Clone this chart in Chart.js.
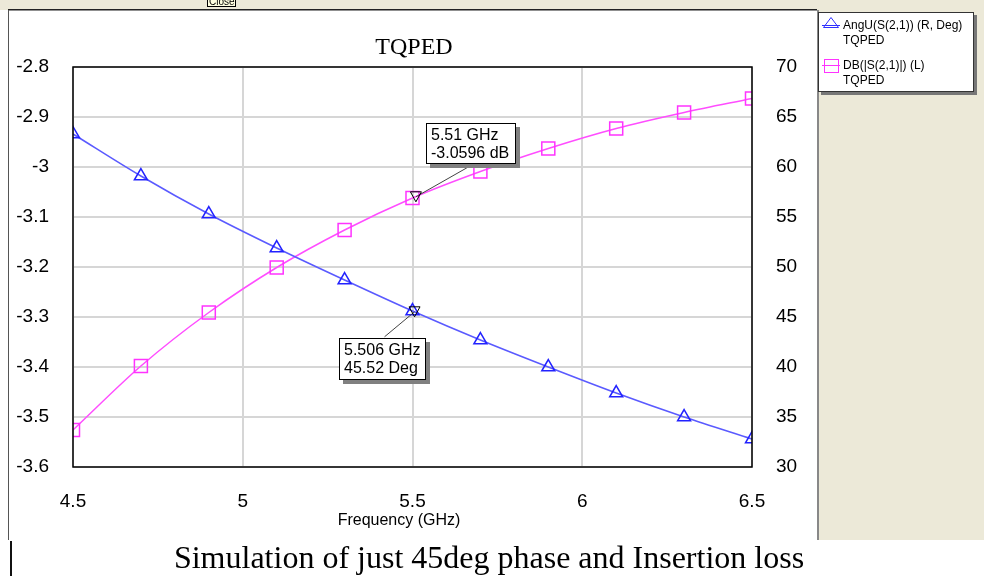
<!DOCTYPE html>
<html>
<head>
<meta charset="utf-8">
<script src="https://cdn.jsdelivr.net/npm/chart.js@4.4.0/dist/chart.umd.min.js"></script>
<style>
html, body { margin: 0; padding: 0; background: #fff; }
#wrap { position: relative; width: 984px; height: 576px; }
</style>
</head>
<body>
<div id="wrap"><canvas id="tqpedChart" width="984" height="576"></canvas></div>
<script>
// values
const freqGHz = [4.5, 4.7, 4.9, 5.1, 5.3, 5.5, 5.7, 5.9, 6.1, 6.3, 6.5];
const angDeg = [63.3, 59.1, 55.3, 51.9, 48.7, 45.6, 42.7, 40.0, 37.4, 35.0, 32.8];
const insLossDb = [-3.526, -3.398, -3.291, -3.201, -3.126, -3.062, -3.009, -2.963, -2.923, -2.891, -2.863];

const freqTicks = [4.5, 5, 5.5, 6, 6.5];
const dbTicks = [-2.8, -2.9, -3, -3.1, -3.2, -3.3, -3.4, -3.5, -3.6];
const degTicks = [70, 65, 60, 55, 50, 45, 40, 35, 30];

const markerFreqs = [5.51, 5.506];
const markerValues = [-3.0596, 45.52];
const markerAxes = ['y', 'y1'];
const markerLabels = [['5.51 GHz', '-3.0596 dB'], ['5.506 GHz', '45.52 Deg']];

const SANS = '"Liberation Sans", Arial, sans-serif';
const SERIF = '"Liberation Serif", "Times New Roman", serif';

const toPoints = vals => freqGHz.map((f, i) => ({ x: f, y: vals[i] }));

// window, legend, title, marker callouts
const paperPlugin = {
    id: 'paper',
    beforeDraw(chart) {
        const c = chart.ctx;
        c.save();
        c.fillStyle = '#fff';
        c.fillRect(0, 0, 984, 576);
        c.fillStyle = '#ece9d8';
        c.fillRect(0, 0, 984, 10);
        c.fillRect(819, 0, 165, 540);
        c.fillStyle = '#fff';
        c.fillRect(8, 10, 809, 530);
        c.fillStyle = '#222';
        c.fillRect(8, 9, 809, 1.5);
        c.fillStyle = '#555';
        c.fillRect(8, 10, 1, 530);
        c.fillStyle = '#888';
        c.fillRect(817, 10, 2, 530);
        c.fillStyle = '#111';
        c.fillRect(10, 541, 2, 35);

        // "Close" tooltip poking in at the top
        c.fillStyle = '#ffffe1';
        c.fillRect(207, -1, 28, 8);
        c.strokeStyle = '#000';
        c.lineWidth = 1;
        c.strokeRect(207.5, -1.5, 28, 8);
        c.fillStyle = '#000';
        c.font = '10px ' + SANS;
        c.textAlign = 'left';
        c.textBaseline = 'alphabetic';
        c.fillText('Close', 209, 5);

        // title
        c.font = '24px ' + SERIF;
        c.textAlign = 'center';
        c.fillText('TQPED', 414, 54);

        // x axis title
        c.font = '16px ' + SANS;
        c.fillText('Frequency (GHz)', 399, 525);

        // caption under the screenshot
        c.font = '32px ' + SERIF;
        c.fillText('Simulation of just 45deg phase and Insertion loss', 489, 568);
        c.restore();
    },
    afterDraw(chart) {
        const c = chart.ctx;
        const ca = chart.chartArea;
        c.save();
        c.strokeStyle = '#000';
        c.lineWidth = 1.5;
        c.strokeRect(ca.left, ca.top, ca.right - ca.left, ca.bottom - ca.top);

        // legend box
        c.fillStyle = '#777';
        c.fillRect(821, 15, 156, 80);
        c.fillStyle = '#fff';
        c.fillRect(818, 12, 156, 80);
        c.strokeStyle = '#333';
        c.lineWidth = 1;
        c.strokeRect(818.5, 12.5, 155, 79);

        c.strokeStyle = '#3030ff';
        c.beginPath();
        c.moveTo(822, 25.5); c.lineTo(840, 25.5);
        c.moveTo(831, 17.5); c.lineTo(823.5, 27.5); c.lineTo(838.5, 27.5); c.closePath();
        c.stroke();
        c.strokeStyle = '#ff33ff';
        c.beginPath();
        c.moveTo(822, 65.5); c.lineTo(840, 65.5);
        c.stroke();
        c.strokeRect(824.5, 59.5, 14, 13);

        c.fillStyle = '#000';
        c.font = '12px ' + SANS;
        c.textAlign = 'left';
        c.fillText('AngU(S(2,1)) (R, Deg)', 843, 29);
        c.fillText('TQPED', 843, 44);
        c.fillText('DB(|S(2,1)|) (L)', 843, 69);
        c.fillText('TQPED', 843, 84);

        // marker callouts
        const callout = [
            { dx: 10, dy: -74, w: 90, h: 41, lx: 51, ly: -29 },
            { dx: -76, dy: 26, w: 87, h: 42, lx: -30, ly: 25 }
        ];
        markerFreqs.forEach((f, i) => {
            const px = chart.scales.x.getPixelForValue(f);
            const py = chart.scales[markerAxes[i]].getPixelForValue(markerValues[i]);
            const b = callout[i];
            const bx = Math.round(px + b.dx), by = Math.round(py + b.dy);

            c.strokeStyle = '#444';
            c.lineWidth = 1;
            c.beginPath();
            c.moveTo(px, py);
            c.lineTo(px + b.lx, py + b.ly);
            c.stroke();

            c.fillStyle = '#808080';
            c.fillRect(bx + 4, by + 4, b.w, b.h);
            c.fillStyle = '#fff';
            c.fillRect(bx, by, b.w, b.h);
            c.strokeStyle = '#000';
            c.strokeRect(bx + 0.5, by + 0.5, b.w - 1, b.h - 1);

            c.fillStyle = '#000';
            c.font = '16px ' + SANS;
            c.fillText(markerLabels[i][0], bx + 5, by + 17);
            c.fillText(markerLabels[i][1], bx + 5, by + 35);

            c.strokeStyle = '#000';
            c.beginPath();
            c.moveTo(px - 5.5, py - 5);
            c.lineTo(px + 5.5, py - 5);
            c.lineTo(px, py + 5);
            c.closePath();
            c.stroke();
        });
        c.restore();
    }
};

const gridStyle = { color: '#d6d6d6', lineWidth: 2, drawTicks: false };
const tickFont = { family: 'Liberation Sans', size: 19 };

const chart = new Chart(document.getElementById('tqpedChart').getContext('2d'), {
    type: 'line',
    data: {
        datasets: [{
            label: 'AngU(S(2,1)) (R, Deg)',
            data: toPoints(angDeg),
            yAxisID: 'y1',
            borderColor: '#5a5aff',
            borderWidth: 1.5,
            cubicInterpolationMode: 'monotone',
            pointStyle: 'triangle',
            pointRadius: 7.5,
            pointBorderWidth: 1.5,
            pointBorderColor: '#2222ff',
            pointBackgroundColor: 'rgba(0,0,0,0)'
        }, {
            label: 'DB(|S(2,1)|) (L)',
            data: toPoints(insLossDb),
            yAxisID: 'y',
            borderColor: '#ff4dff',
            borderWidth: 1.5,
            cubicInterpolationMode: 'monotone',
            pointStyle: 'rect',
            pointRadius: 9.2,
            pointBorderWidth: 1.5,
            pointBorderColor: '#ff33ff',
            pointBackgroundColor: 'rgba(0,0,0,0)'
        }]
    },
    options: {
        responsive: false,
        animation: false,
        events: [],
        layout: { padding: { top: 67, left: 0, right: 0, bottom: 0 } },
        plugins: {
            legend: { display: false },
            tooltip: { enabled: false },
            title: { display: false }
        },
        scales: {
            x: {
                type: 'linear',
                min: 4.5,
                max: 6.5,
                afterBuildTicks: s => { s.ticks = freqTicks.map(v => ({ value: v })); },
                afterFit: s => { s.height = 109; },
                ticks: { font: tickFont, color: '#000', padding: 23, maxRotation: 0, autoSkip: false, callback: v => String(v) },
                grid: gridStyle,
                border: { display: false }
            },
            y: {
                position: 'left',
                min: -3.6,
                max: -2.8,
                afterBuildTicks: s => { s.ticks = dbTicks.map(v => ({ value: v })); },
                afterFit: s => { s.width = 73; },
                ticks: { font: tickFont, color: '#000', padding: 24, callback: v => String(v) },
                grid: gridStyle,
                border: { display: false }
            },
            y1: {
                position: 'right',
                min: 30,
                max: 70,
                afterBuildTicks: s => { s.ticks = degTicks.map(v => ({ value: v })); },
                afterFit: s => { s.width = 232; },
                ticks: { font: tickFont, color: '#000', padding: 24, callback: v => String(v) },
                grid: { display: false, drawTicks: false },
                border: { display: false }
            }
        }
    },
    plugins: [paperPlugin]
});
</script>
</body>
</html>
